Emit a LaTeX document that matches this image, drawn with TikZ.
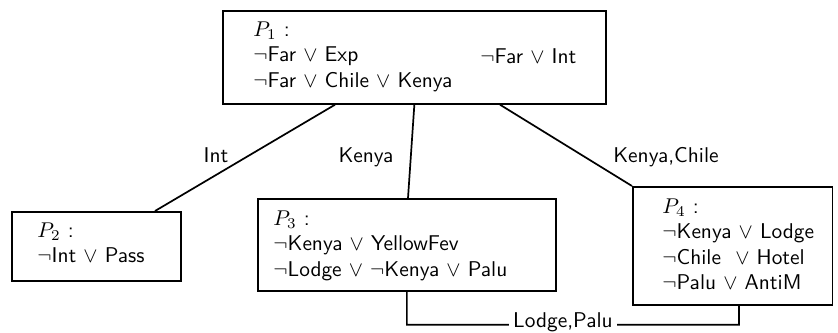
\documentclass[tikz,border=0pt]{standalone}
\usetikzlibrary{calc}
\begin{document}
\begin{tikzpicture}[x=0.468pt,y=-0.468pt,
  box/.style={draw,line width=0.8pt,inner sep=0pt,anchor=north west},
  txt/.style={anchor=base west,inner sep=0pt,font=\sffamily},
  lbl/.style={anchor=base,inner sep=0pt,font=\sffamily},
  conn/.style={line width=0.8pt}]
\useasboundingbox (0,0) rectangle (838,332);
% boxes
\node[box,minimum width=179.24pt,minimum height=43.52pt] (P1) at (222,10) {};
\node[box,minimum width=79.09pt,minimum height=32.29pt] (P2) at (11,211) {};
\node[box,minimum width=139.46pt,minimum height=43.06pt] (P3) at (257,198) {};
\node[box,minimum width=93.37pt,minimum height=55.22pt] (P4) at (632,186) {};
% texts
\node[txt] (t1) at (253,36) {\begin{tabular}[t]{@{}l@{}}$P_1$ :\\ $\neg$Far $\vee$ Exp\\ $\neg$Far $\vee$ Chile $\vee$ Kenya\end{tabular}};
\node[txt] (t1b) at (480,63) {$\neg$Far $\vee$ Int};
\node[txt] (t2) at (37,237) {\begin{tabular}[t]{@{}l@{}}$P_2$ :\\ $\neg$Int $\vee$ Pass\end{tabular}};
\node[txt] (t3) at (273,225) {\begin{tabular}[t]{@{}l@{}}$P_3$ :\\ $\neg$Kenya $\vee$ YellowFev\\ $\neg$Lodge $\vee$ $\neg$Kenya $\vee$ Palu\end{tabular}};
\node[txt] (t4) at (662,213) {\begin{tabular}[t]{@{}l@{}}$P_4$ :\\ $\neg$Kenya $\vee$ Lodge\\ $\neg$Chile \ $\vee$ Hotel\\ $\neg$Palu $\vee$ AntiM\end{tabular}};
% connectors
\draw[conn] ($(P1.south west)+(113,0)$) -- ($(P2.north west)+(144,0)$);
\draw[conn] (P1.south) -- ($(P3.north west)+(151,0)$);
\draw[conn] ($(P1.south west)+(278,0)$) -- (P4.north west);
\coordinate (c1) at ($(P3.south)+(0,33)$);
\coordinate (c2) at ($(P4.south west)+(107,19)$);
\draw[conn] (P3.south) -- (c1) -- node[pos=0.47,fill=white,font=\sffamily,inner sep=2pt,anchor=base,yshift=-1.5pt] (lp) {Lodge,Palu} (c2) -- ($(P4.south west)+(107,0)$);
% edge labels
\node[lbl] (li) at (216,162) {Int};
\node[lbl] (lk) at (366,162) {Kenya};
\node[lbl] (lkc) at (666,162) {Kenya,Chile};
\end{tikzpicture}
\end{document}
